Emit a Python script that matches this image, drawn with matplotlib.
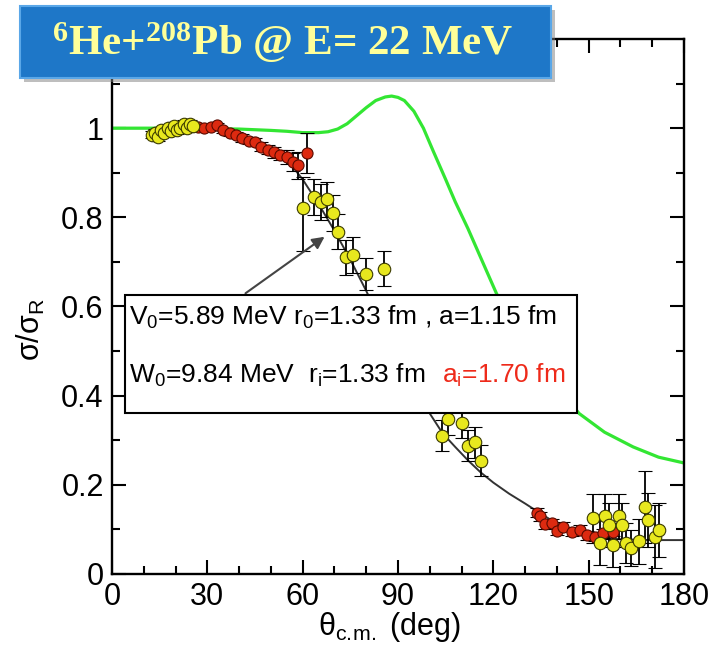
import matplotlib
matplotlib.use("Agg")
import matplotlib.pyplot as plt
from matplotlib.patches import Rectangle
from matplotlib.ticker import FixedLocator

plt.rcParams['font.family'] = ['Liberation Sans', 'DejaVu Sans']
plt.rcParams['mathtext.default'] = 'regular'

# ---- data: sigma / sigma_Rutherford vs theta_cm (deg) ----
# yellow data set
theta_y_fwd = [12.5, 13.5, 14.5, 15.5, 16.5, 17.5, 18.5, 19.5, 20.5, 21.5, 22.5, 23.5, 24.5, 25.5]
ratio_y_fwd = [0.985, 0.99, 0.98, 0.995, 0.99, 1.0, 0.993, 1.005, 0.995, 1.0, 1.01, 1.0, 1.01, 1.005]
err_y_fwd = [0.008] * 14

theta_y_mid = [60.0, 63.6, 65.7, 67.8, 69.5, 71.2, 73.6, 75.9, 79.9, 85.6]
ratio_y_mid = [0.820, 0.845, 0.835, 0.840, 0.809, 0.768, 0.710, 0.715, 0.673, 0.685]
err_y_mid_lo = [0.095, 0.04, 0.04, 0.04, 0.04, 0.04, 0.04, 0.04, 0.035, 0.04]
err_y_mid_hi = [0.07, 0.04, 0.04, 0.04, 0.04, 0.04, 0.04, 0.04, 0.035, 0.04]

theta_y_low = [103.8, 105.8, 110.0, 112.1, 114.2, 116.0]
ratio_y_low = [0.310, 0.347, 0.339, 0.288, 0.295, 0.254]
err_y_low = [0.035, 0.035, 0.035, 0.035, 0.035, 0.035]

theta_y_bwd = [151.3, 153.6, 155.2, 156.5, 157.8, 159.4, 160.4, 161.8, 163.2, 165.9, 167.7, 168.8, 170.9, 172.2]
ratio_y_bwd = [0.125, 0.070, 0.129, 0.110, 0.065, 0.129, 0.110, 0.070, 0.058, 0.073, 0.150, 0.121, 0.084, 0.099]
err_y_bwd = [0.055, 0.05, 0.05, 0.05, 0.05, 0.05, 0.05, 0.045, 0.04, 0.05, 0.08, 0.06, 0.07, 0.06]

# red data set
theta_r_fwd = [27, 29, 31, 33, 35, 37, 39, 41, 43, 45, 47, 49, 51, 53, 55, 57, 58.6, 61.3]
ratio_r_fwd = [1.003, 1.0, 1.002, 1.006, 0.995, 0.99, 0.984, 0.978, 0.972, 0.968, 0.958, 0.952,
               0.946, 0.94, 0.935, 0.925, 0.917, 0.945]
err_r_fwd = [0.006, 0.006, 0.006, 0.006, 0.006, 0.007, 0.007, 0.008, 0.008, 0.009, 0.01, 0.01,
             0.012, 0.012, 0.015, 0.02, 0.03, 0.045]

theta_r_bwd = [133.6, 134.7, 136.4, 138.4, 140.0, 142.0, 144.7, 147.3, 149.4, 152.0, 154.6, 157.8]
ratio_r_bwd = [0.137, 0.129, 0.112, 0.114, 0.097, 0.106, 0.095, 0.099, 0.087, 0.084, 0.091, 0.095]
err_r_bwd = [0.01] * 12

# optical-model fit (black) and calculation without long-range absorption (green)
theta_fit = [0, 10, 20, 30, 35, 40, 45, 50, 55, 60, 65, 70, 75, 80, 85, 90, 95, 100, 104, 108,
             112, 116, 120, 125, 130, 135, 140, 145, 150, 155, 160, 170, 180]
ratio_fit = [1.0, 1.0, 1.0, 0.998, 0.993, 0.985, 0.972, 0.955, 0.93, 0.885, 0.83, 0.77, 0.705,
             0.635, 0.56, 0.49, 0.42, 0.36, 0.316, 0.285, 0.255, 0.228, 0.205, 0.18, 0.158,
             0.135, 0.113, 0.097, 0.086, 0.08, 0.078, 0.076, 0.076]

theta_free = [0, 10, 20, 30, 40, 50, 55, 60, 65, 68, 71, 74, 77, 80, 83, 86, 88, 90, 92, 95,
              98, 101, 105, 108, 112, 116, 121, 125, 130, 135, 140, 147, 155, 164, 172, 180]
ratio_free = [1.0, 1.0, 1.0, 0.999, 0.998, 0.995, 0.993, 0.99, 0.99, 0.992, 0.998, 1.01, 1.028,
              1.046, 1.062, 1.07, 1.072, 1.069, 1.062, 1.038, 1.0, 0.95, 0.885, 0.835, 0.775,
              0.71, 0.629, 0.575, 0.515, 0.46, 0.42, 0.36, 0.318, 0.285, 0.262, 0.249]

x_ticks = [0, 30, 60, 90, 120, 150, 180]
x_tick_labels = ['0', '30', '60', '90', '120', '150', '180']
y_ticks = [0, 0.2, 0.4, 0.6, 0.8, 1.0]
y_tick_labels = ['0', '0.2', '0.4', '0.6', '0.8', '1']

# ---- figure ----
fig = plt.figure(figsize=(7.13, 6.49), dpi=100)
ax = fig.add_axes([0.1571, 0.1156, 0.8022, 0.8243])

ax.plot(theta_fit, ratio_fit, color='#333333', lw=1.4, zorder=2)
ax.plot(theta_free, ratio_free, color='#33e633', lw=2.3, zorder=2)

eb = dict(fmt='o', ecolor='black', elinewidth=1.3, capsize=5, capthick=1.3, mew=0.8, zorder=3)
yellow = dict(ms=9, mfc='#e8e81e', mec='#3a3a00')
red = dict(ms=8, mfc='#dd2a10', mec='#5a0a00')

ax.errorbar(theta_r_fwd, ratio_r_fwd, yerr=err_r_fwd, **eb, **red)
ax.errorbar(theta_r_bwd, ratio_r_bwd, yerr=err_r_bwd, **eb, **red)
ax.errorbar(theta_y_fwd, ratio_y_fwd, yerr=err_y_fwd, **eb, **yellow)
ax.errorbar(theta_y_mid, ratio_y_mid, yerr=[err_y_mid_lo, err_y_mid_hi], **eb, **yellow)
ax.errorbar(theta_y_low, ratio_y_low, yerr=err_y_low, **eb, **yellow)
ax.errorbar(theta_y_bwd, ratio_y_bwd, yerr=err_y_bwd, **eb, **yellow)

ax.set_xlim(0, 180)
ax.set_ylim(0, 1.2)
ax.xaxis.set_major_locator(FixedLocator(x_ticks))
ax.xaxis.set_minor_locator(FixedLocator([t for t in range(10, 180, 10) if t % 30]))
ax.yaxis.set_major_locator(FixedLocator(y_ticks))
ax.yaxis.set_minor_locator(FixedLocator([0.1, 0.3, 0.5, 0.7, 0.9, 1.1]))
ax.set_xticklabels(x_tick_labels)
ax.set_yticklabels(y_tick_labels)
ax.tick_params(which='both', direction='in', top=True, right=True, width=1.5, labelsize=22)
ax.tick_params(which='major', length=10, pad=6)
ax.tick_params(which='minor', length=6)
for s in ax.spines.values():
    s.set_linewidth(1.7)

ax.set_ylabel('σ/σ$_R$', fontsize=22)
ax.yaxis.set_label_coords(-0.114, 0.456)
ax.set_xlabel(r'θ$_{c.\!m.}$ (deg)', fontsize=22)
ax.xaxis.set_label_coords(0.486, -0.068)

# parameter box with arrow
ax.annotate('', xy=(67.6, 0.76), xytext=(41.3, 0.626),
            arrowprops=dict(arrowstyle='-|>', color='#444444', lw=1.5, mutation_scale=18),
            zorder=4)
ax.add_patch(Rectangle((4.1, 0.36), 142.1, 0.266, facecolor='white', edgecolor='black',
                       lw=1.5, zorder=5))
ax.text(5.2, 0.558, 'V$_0$=5.89 MeV r$_0$=1.33 fm , a=1.15 fm', fontsize=19, zorder=6)
ax.text(5.2, 0.428, 'W$_0$=9.84 MeV  r$_i$=1.33 fm', fontsize=19, zorder=6)
ax.text(104.0, 0.428, 'a$_i$=1.70 fm', fontsize=19, color='#ee2a1a', zorder=6)

# title banner
fig.patches.append(Rectangle((0.033, 0.874), 0.745, 0.110, transform=fig.transFigure,
                             facecolor='#7f7f7f', alpha=0.5, edgecolor='none', zorder=1))
fig.patches.append(Rectangle((0.028, 0.880), 0.745, 0.110, transform=fig.transFigure,
                             facecolor='#1e77c8', edgecolor='#5aa7e8', lw=1.5, zorder=2))
fig.text(0.397, 0.934, '$^{6}$He+$^{208}$Pb @ E= 22 MeV', fontfamily='Liberation Serif',
         fontweight='bold', fontsize=31, color='#ffff99', ha='center', va='center', zorder=3)

fig.savefig('out.png', dpi=100)
